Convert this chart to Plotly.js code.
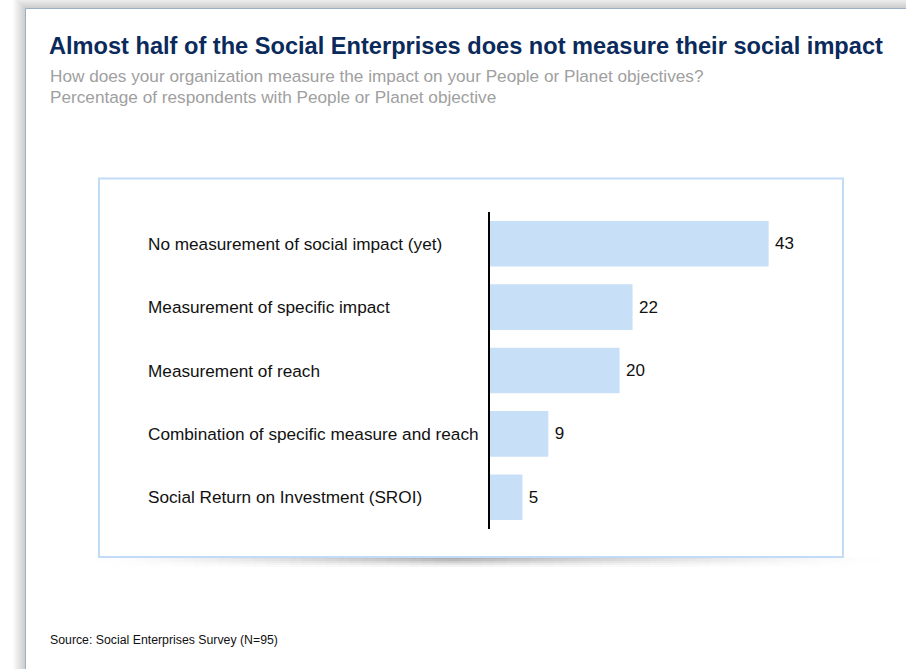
<!DOCTYPE html>
<html>
<head>
<meta charset="utf-8">
<script src="https://cdn.plot.ly/plotly-3.0.1.min.js"></script>
<style>html,body{margin:0;padding:0;background:#fff;}#chart{width:906px;height:669px;}</style>
</head>
<body>
<div id="chart"></div>
<script>
// ---- data ----
const categories = [
  "No measurement of social impact (yet)",
  "Measurement of specific impact",
  "Measurement of reach",
  "Combination of specific measure and reach",
  "Social Return on Investment (SROI)"
];
const values = [43, 22, 20, 9, 5];
const titleText = "Almost half of the Social Enterprises does not measure their social impact";
const subtitleLines = [
  "How does your organization measure the impact on your People or Planet objectives?",
  "Percentage of respondents with People or Planet objective"
];
const sourceText = "Source: Social Enterprises Survey (N=95)";

// ---- layout geometry ----
const W = 906, H = 669;
const L = 490, R = 92, T = 212, B = 140;
const PW = W - L - R, PH = H - T - B;
const px = x => (x - L) / PW;
const py = y => (H - B - y) / PH;
const FONT = "Arial, 'Liberation Sans', sans-serif";

const shapes = [];
// slide shadow (outside frame)
for (let d = 12; d >= 1; d--) {
  shapes.push({type:'rect', xref:'paper', yref:'paper', layer:'below',
    x0: px(25 - d), x1: px(1000), y0: py(1000), y1: py(8 - d),
    fillcolor:'rgba(0,0,0,0.014)', line:{width:0}});
}
// slide frame
shapes.push({type:'rect', xref:'paper', yref:'paper', layer:'below',
  x0: px(25.5), x1: px(1000), y0: py(1000), y1: py(8.5),
  fillcolor:'#ffffff', line:{color:'#9cb0c4', width:1}});
// shadow under the panel
const step = 12;
for (let x = 98; x < 880; x += step) {
  const c = x + step / 2;
  let a = c < 450 ? (c - 98) / (450 - 98) : 1 - (c - 450) / (880 - 450);
  a = Math.max(0, a);
  const peak = 0.5 * Math.pow(a, 1.3);
  const rows = [[557, 559, 1], [559, 561, 0.85], [561, 563, 0.6], [563, 565, 0.35], [565, 567, 0.15]];
  rows.forEach(r => {
    shapes.push({type:'rect', xref:'paper', yref:'paper', layer:'below',
      x0: px(x), x1: px(x + step), y0: py(r[1]), y1: py(r[0]),
      fillcolor:'rgba(90,90,90,' + (peak * r[2]).toFixed(3) + ')', line:{width:0}});
  });
}
// chart panel
shapes.push({type:'rect', xref:'paper', yref:'paper', layer:'below',
  x0: px(99), x1: px(843), y0: py(557), y1: py(178.5),
  fillcolor:'#ffffff', line:{color:'#c2dbf6', width:2}});

const annotations = [];
categories.forEach(c => {
  annotations.push({xref:'paper', yref:'y', x: px(146), y: c, xanchor:'left', yanchor:'middle',
    text: c, showarrow:false, font:{family:FONT, size:17.2, color:'#111'}});
});
subtitleLines.forEach((s, i) => {
  annotations.push({xref:'paper', yref:'paper', x: px(48), y: py(76 + i * 21), xanchor:'left', yanchor:'middle',
    text: s, showarrow:false, font:{family:FONT, size:17.2, color:'#a0a0a0'}});
});
annotations.push({xref:'paper', yref:'paper', x: px(48), y: py(640), xanchor:'left', yanchor:'middle',
  text: sourceText, showarrow:false, font:{family:FONT, size:12.3, color:'#111'}});

const trace = {
  type:'bar', orientation:'h', x: values, y: categories,
  marker:{color:'#c8dff8', line:{width:0}}, width:0.72,
  text: values.map(v => '\u2009' + v), textposition:'outside', cliponaxis:false,
  textfont:{family:FONT, size:17, color:'#111'}, hoverinfo:'none'
};

const layout = {
  width: W, height: H,
  margin:{l:L, r:R, t:T, b:B, pad:0},
  paper_bgcolor:'#ffffff', plot_bgcolor:'rgba(0,0,0,0)',
  showlegend:false,
  title:{text:'<b>' + titleText + '</b>', xref:'container', yref:'container', x: 49 / W, xanchor:'left',
    y: 1 - 46 / H, yanchor:'middle', font:{family:FONT, size:23.6, color:'#0b2a5c'}},
  xaxis:{range:[0, 50], visible:false, fixedrange:true},
  yaxis:{type:'category', categoryarray: categories, autorange:'reversed', range:[4.5, -0.5],
    showticklabels:false, ticks:'', showgrid:false, zeroline:false,
    showline:true, linecolor:'#000', linewidth:2.5, fixedrange:true},
  bargap:0.28,
  shapes: shapes,
  annotations: annotations
};

Plotly.newPlot('chart', [trace], layout, {displayModeBar:false, staticPlot:true});
</script>
</body>
</html>
